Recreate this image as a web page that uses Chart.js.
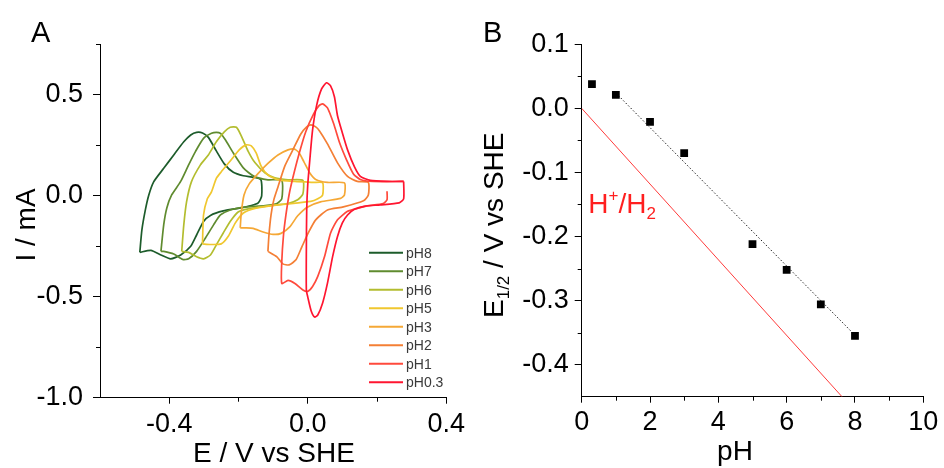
<!DOCTYPE html>
<html>
<head>
<meta charset="utf-8">
<script src="https://cdn.jsdelivr.net/npm/chart.js@4.4.0/dist/chart.umd.min.js"></script>
<style>
  body { margin: 0; background: #fff; }
  #wrap { position: relative; width: 944px; height: 468px; }
  canvas { position: absolute; top: 0; }
  #cvChart { left: 0; }
  #phChart { left: 470px; }
</style>
</head>
<body>
<div id="wrap">
  <canvas id="cvChart" width="470" height="468"></canvas>
  <canvas id="phChart" width="474" height="468"></canvas>
</div>
<script>
// Panel A: cyclic voltammograms, E (V vs SHE) and I (mA)
const pH8E = [-0.485,-0.479,-0.469,-0.459,-0.445,-0.416,-0.387,-0.358,-0.338,-0.321,-0.304,-0.287,-0.264,-0.241,-0.215,-0.186,-0.155,-0.135,-0.133,-0.143,-0.163,-0.201,-0.244,-0.281,-0.301,-0.321,-0.338,-0.367,-0.396,-0.424,-0.453,-0.485];
const pH8I = [-0.281,-0.170,-0.071,0.003,0.068,0.135,0.201,0.266,0.300,0.313,0.310,0.288,0.221,0.157,0.115,0.098,0.090,0.078,-0.001,-0.036,-0.049,-0.063,-0.076,-0.098,-0.128,-0.195,-0.251,-0.294,-0.313,-0.294,-0.271,-0.281];

const pH7E = [-0.424,-0.416,-0.407,-0.393,-0.367,-0.344,-0.324,-0.301,-0.278,-0.264,-0.252,-0.238,-0.215,-0.186,-0.155,-0.115,-0.075,-0.075,-0.089,-0.123,-0.186,-0.224,-0.252,-0.272,-0.295,-0.321,-0.344,-0.361,-0.387,-0.416,-0.424];
const pH7I = [-0.276,-0.145,-0.061,0.003,0.070,0.152,0.219,0.283,0.308,0.313,0.308,0.276,0.211,0.137,0.095,0.078,0.075,-0.016,-0.039,-0.049,-0.058,-0.071,-0.096,-0.145,-0.209,-0.276,-0.313,-0.316,-0.289,-0.276,-0.276];

const pH6E = [-0.364,-0.358,-0.350,-0.336,-0.310,-0.287,-0.264,-0.241,-0.224,-0.206,-0.192,-0.172,-0.152,-0.123,-0.095,-0.057,-0.014,-0.014,-0.029,-0.057,-0.115,-0.172,-0.201,-0.224,-0.244,-0.264,-0.281,-0.301,-0.321,-0.344,-0.364];
const pH6I = [-0.276,-0.145,-0.031,0.068,0.152,0.201,0.266,0.315,0.338,0.338,0.296,0.219,0.162,0.112,0.088,0.078,0.075,0.008,-0.021,-0.039,-0.051,-0.066,-0.081,-0.128,-0.185,-0.244,-0.294,-0.313,-0.303,-0.281,-0.276];

const pH5E = [-0.304,-0.301,-0.290,-0.278,-0.264,-0.250,-0.221,-0.198,-0.178,-0.163,-0.149,-0.135,-0.115,-0.086,-0.037,0.017,0.043,0.043,0.029,0.009,-0.086,-0.152,-0.186,-0.209,-0.229,-0.250,-0.281,-0.304];
const pH5I = [-0.239,-0.096,-0.016,0.018,0.085,0.117,0.177,0.226,0.251,0.246,0.211,0.147,0.102,0.078,0.070,0.065,0.063,0.003,-0.016,-0.029,-0.046,-0.063,-0.086,-0.135,-0.200,-0.239,-0.242,-0.239];

const pH3E = [-0.195,-0.192,-0.184,-0.169,-0.143,-0.115,-0.086,-0.057,-0.040,-0.026,-0.011,0.006,0.023,0.057,0.106,0.106,0.095,0.037,0.000,-0.029,-0.052,-0.077,-0.100,-0.129,-0.158,-0.181,-0.195];
const pH3I = [-0.160,-0.086,0.003,0.058,0.110,0.159,0.201,0.226,0.231,0.214,0.167,0.112,0.080,0.065,0.063,0.003,-0.014,-0.031,-0.056,-0.100,-0.155,-0.187,-0.192,-0.180,-0.162,-0.160,-0.160];

const pH2E = [-0.115,-0.112,-0.106,-0.098,-0.086,-0.066,-0.043,-0.020,-0.003,0.009,0.023,0.034,0.057,0.086,0.115,0.143,0.175,0.175,0.161,0.103,0.057,0.023,0.003,-0.017,-0.034,-0.054,-0.072,-0.089,-0.115];
const pH2I = [-0.276,-0.195,-0.096,-0.021,0.043,0.147,0.226,0.305,0.340,0.350,0.340,0.320,0.256,0.162,0.095,0.070,0.065,0.003,-0.026,-0.056,-0.071,-0.120,-0.180,-0.254,-0.318,-0.343,-0.338,-0.303,-0.276];

const pH1E = [0.229,0.229,0.218,0.172,0.143,0.115,0.086,0.066,0.049,0.029,0.014,0.000,-0.014,-0.037,-0.057,-0.075,-0.075,-0.070,-0.063,-0.054,-0.043,-0.026,-0.006,0.017,0.032,0.043,0.057,0.075,0.092,0.112,0.132,0.152,0.186,0.277];
const pH1I = [0.021,-0.021,-0.039,-0.051,-0.063,-0.078,-0.120,-0.185,-0.299,-0.400,-0.450,-0.474,-0.467,-0.435,-0.420,-0.435,-0.328,-0.195,-0.096,0.003,0.088,0.201,0.315,0.404,0.444,0.454,0.434,0.355,0.261,0.177,0.107,0.080,0.070,0.070];

const pH03E = [0.277,0.277,0.264,0.209,0.163,0.135,0.115,0.100,0.086,0.072,0.057,0.043,0.029,0.020,0.010,0.000,-0.004,-0.004,-0.003,0.000,0.006,0.014,0.026,0.040,0.054,0.066,0.077,0.086,0.100,0.115,0.135,0.152,0.181,0.229,0.277];
const pH03I = [0.070,-0.016,-0.036,-0.046,-0.053,-0.068,-0.096,-0.135,-0.202,-0.301,-0.433,-0.531,-0.591,-0.601,-0.571,-0.501,-0.467,-0.269,-0.071,0.053,0.177,0.325,0.449,0.528,0.558,0.543,0.489,0.395,0.310,0.226,0.142,0.095,0.075,0.070,0.070];

const cvLabels = ['pH8', 'pH7', 'pH6', 'pH5', 'pH3', 'pH2', 'pH1', 'pH0.3'];
const cvXTicks = [-0.4, 0.0, 0.4];
const cvXMinor = [-0.2, 0.2];
const cvYTicks = [-1.0, -0.5, 0.0, 0.5];
const cvYMinor = [-0.75, -0.25, 0.25, 0.75];

// Panel B: half-wave potentials vs pH
const pHVals = [0.3, 1, 2, 3, 5, 6, 7, 8];
const e12Vals = [0.038, 0.021, -0.021, -0.070, -0.212, -0.252, -0.306, -0.355];
const fitX = [1, 8];
const fitY = [0.024, -0.354];
const heX = [0, 7.62];
const heY = [0, -0.45];
const phXTicks = [0, 2, 4, 6, 8, 10];
const phXMinor = [1, 3, 5, 7, 9];
const phYTicks = [0.1, 0.0, -0.1, -0.2, -0.3, -0.4];
const phYMinor = [0.05, -0.05, -0.15, -0.25, -0.35];

const FONT = "'Liberation Sans', Arial, sans-serif";
const CV_COLORS = ['#1d5c2b', '#5f8b2f', '#b3bd2f', '#f0c72f', '#f5a836', '#f47f35', '#ff4a3c', '#ff1530'];

const toPts = (xs, ys) => xs.map((x, i) => ({ x, y: ys[i] }));

// short minor tick marks, drawn through the scales
const minorTicks = {
    id: 'minorTicks',
    afterDraw(chart, args, opts) {
        const { ctx, scales: { x, y } } = chart;
        ctx.save();
        ctx.strokeStyle = '#000';
        ctx.lineWidth = 1;
        ctx.beginPath();
        opts.x.forEach(v => {
            const px = Math.round(x.getPixelForValue(v)) + 0.5;
            ctx.moveTo(px, x.top);
            ctx.lineTo(px, x.top + opts.len);
        });
        opts.y.forEach(v => {
            const py = Math.round(y.getPixelForValue(v)) + 0.5;
            ctx.moveTo(y.right, py);
            ctx.lineTo(y.right - opts.len, py);
        });
        ctx.stroke();
        ctx.restore();
    }
};

// axis titles / panel letters, with sub- and superscripts
const richText = {
    id: 'richText',
    afterDraw(chart, args, opts) {
        const ctx = chart.ctx;
        opts.items.forEach(item => {
            ctx.save();
            ctx.translate(item.x, item.y);
            if (item.rot) ctx.rotate(item.rot);
            ctx.fillStyle = item.color || '#000';
            ctx.textBaseline = 'alphabetic';
            ctx.textAlign = 'left';
            let total = 0;
            item.parts.forEach(p => {
                ctx.font = `${p.size}px ${FONT}`;
                p.w = ctx.measureText(p.t).width;
                total += p.w;
            });
            let cx = item.center ? -total / 2 : 0;
            item.parts.forEach(p => {
                ctx.font = `${p.size}px ${FONT}`;
                ctx.fillText(p.t, cx, p.dy || 0);
                cx += p.w;
            });
            ctx.restore();
        });
    }
};

// legend box inside panel A
const cvLegend = {
    id: 'cvLegend',
    afterDraw(chart, args, opts) {
        const ctx = chart.ctx;
        ctx.save();
        ctx.font = `${opts.size}px ${FONT}`;
        ctx.textBaseline = 'middle';
        chart.data.datasets.forEach((ds, i) => {
            const y = opts.y + i * opts.dy;
            ctx.strokeStyle = ds.borderColor;
            ctx.lineWidth = 2;
            ctx.beginPath();
            ctx.moveTo(opts.x, y);
            ctx.lineTo(opts.x + opts.len, y);
            ctx.stroke();
            ctx.fillStyle = '#3a3a3a';
            ctx.fillText(ds.label, opts.x + opts.len + 3, y + 1);
        });
        ctx.restore();
    }
};

function axisOpts(min, max, ticks, fmt, isX, size, pad) {
    return {
        type: 'linear',
        min: min,
        max: max,
        afterBuildTicks: ax => { ax.ticks = ticks.map(v => ({ value: v })); },
        afterFit: ax => { if (isX) ax.height = size; else ax.width = size; },
        grid: { drawOnChartArea: false, drawTicks: true, tickLength: isX ? 6 : 7, color: '#000' },
        border: { display: true, color: '#000', width: 1 },
        ticks: {
            color: '#000',
            font: { family: FONT, size: 27 },
            padding: pad,
            maxRotation: 0,
            autoSkip: false,
            callback: fmt
        }
    };
}

// ---- Panel A ----
const cvSeries = [[pH8E, pH8I], [pH7E, pH7I], [pH6E, pH6I], [pH5E, pH5I], [pH3E, pH3I], [pH2E, pH2I], [pH1E, pH1I], [pH03E, pH03I]];

new Chart(document.getElementById('cvChart'), {
    type: 'scatter',
    data: {
        datasets: cvSeries.map((s, i) => ({
            label: cvLabels[i],
            data: toPts(s[0], s[1]),
            showLine: true,
            borderColor: CV_COLORS[i],
            backgroundColor: CV_COLORS[i],
            borderWidth: 1.7,
            pointRadius: 0,
            tension: 0.2,
            order: cvLabels.length - i
        }))
    },
    options: {
        responsive: false,
        animation: false,
        layout: { padding: { left: 0, top: 44, right: 21.3, bottom: 0 } },
        plugins: {
            legend: { display: false },
            tooltip: { enabled: false },
            minorTicks: { x: cvXMinor, y: cvYMinor, len: 4 },
            cvLegend: { x: 369, y: 252.7, dy: 18.5, len: 34, size: 14 },
            richText: {
                items: [
                    { x: 31, y: 41.7, parts: [{ t: 'A', size: 29 }] },
                    { x: 274, y: 461.5, center: true, parts: [{ t: 'E / V vs SHE', size: 28 }] },
                    { x: 35, y: 225, rot: -Math.PI / 2, center: true, parts: [{ t: 'I / mA', size: 28 }] }
                ]
            }
        },
        scales: {
            x: axisOpts(-0.6, 0.4, cvXTicks, v => v.toFixed(1), true, 70.3, 5),
            y: axisOpts(-1.0, 0.75, cvYTicks, v => v.toFixed(1), false, 100, 10)
        }
    },
    plugins: [minorTicks, richText, cvLegend]
});

// ---- Panel B ----
new Chart(document.getElementById('phChart'), {
    type: 'scatter',
    data: {
        datasets: [
            {
                label: 'E1/2',
                data: toPts(pHVals, e12Vals),
                pointStyle: 'rect',
                pointRadius: 5.5,
                backgroundColor: '#000',
                borderColor: '#000',
                borderWidth: 0,
                showLine: false
            },
            {
                label: 'fit',
                data: toPts(fitX, fitY),
                showLine: true,
                borderColor: '#222',
                borderWidth: 1,
                borderDash: [1.5, 2],
                pointRadius: 0
            },
            {
                label: 'H+/H2',
                data: toPts(heX, heY),
                showLine: true,
                borderColor: '#ff3b3b',
                borderWidth: 1,
                pointRadius: 0
            }
        ]
    },
    options: {
        responsive: false,
        animation: false,
        layout: { padding: { left: 0, top: 44.3, right: 20.7, bottom: 0 } },
        plugins: {
            legend: { display: false },
            tooltip: { enabled: false },
            minorTicks: { x: phXMinor, y: phYMinor, len: 4 },
            richText: {
                items: [
                    { x: 13, y: 41.7, parts: [{ t: 'B', size: 29 }] },
                    { x: 265, y: 460, center: true, parts: [{ t: 'pH', size: 28 }] },
                    { x: 33.3, y: 318, rot: -Math.PI / 2, parts: [
                        { t: 'E', size: 28 }, { t: '1/2', size: 17, dy: 6 }, { t: ' / V vs SHE', size: 28 }
                    ] },
                    { x: 118.3, y: 213.3, color: '#ff1f1f', parts: [
                        { t: 'H', size: 28 }, { t: '+', size: 17, dy: -12 }, { t: '/H', size: 28 }, { t: '2', size: 17, dy: 6 }
                    ] }
                ]
            }
        },
        scales: {
            x: axisOpts(0, 10, phXTicks, v => String(v), true, 71.3, 4),
            y: axisOpts(-0.45, 0.1, phYTicks, v => v.toFixed(1), false, 111.7, 6)
        }
    },
    plugins: [minorTicks, richText]
});
</script>
</body>
</html>
